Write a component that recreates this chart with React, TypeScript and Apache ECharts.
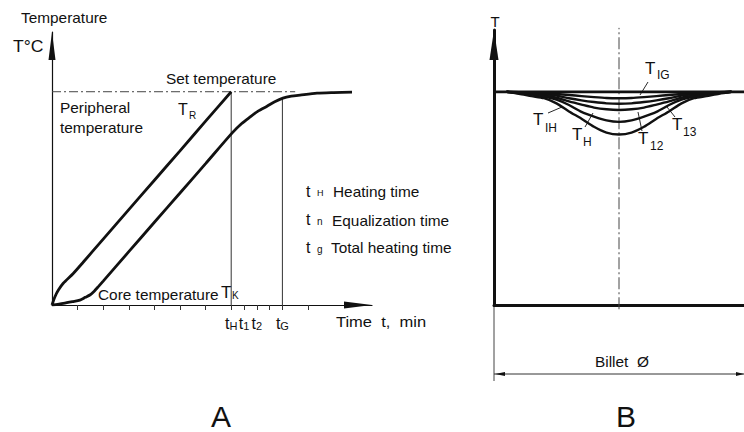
import React, { useEffect, useRef } from "react";
import * as echarts from "echarts";

const FONT = '"Liberation Sans", Arial, Helvetica, sans-serif';
const INK = "#111";

// ---- Panel A: heating of a billet over time (temperature in % of set value) ----
const surfaceTime = [0, 1.2, 2.5, 4.4, 8.3, 12, 20, 30, 40, 50, 60, 70];
const surfaceTemp = [0, 4, 7, 10.2, 14.8, 19.8, 30.9, 44.7, 58.5, 72.3, 86.2, 100];
const coreTime = [0, 4.4, 8, 10.9, 13, 14.8, 16.5, 18.1, 20, 30, 40, 50, 60, 70.3, 74, 77.3, 80.5, 84, 87, 90.2, 93.5, 96.9, 103.5, 110, 117.2];
const coreTemp = [0, 0.8, 1.6, 2.3, 3.6, 4.7, 6.5, 8.6, 11.2, 25, 38.8, 52.5, 66.3, 80.6, 85, 88.1, 90.9, 93.2, 95.3, 97, 97.9, 98.4, 99.3, 99.6, 99.8];
const setTemperature = 100;
const setLineEnd = 95;
const heatingTime = 70;
const totalTime = 90;
const totalTimeTemp = 97;
const timeTicks = [10, 20, 30, 40, 50, 60, 70, 75, 80, 85, 90, 100];
const timeLabelValues = [70, 75, 80, 90];
const timeLabelSubs = ["H", "1", "2", "G"];

// ---- Panel B: temperature across the billet diameter (-1 .. 1) ----
const positions = [-0.9, -0.8, -0.7, -0.6, -0.5, -0.4, -0.3, -0.2, -0.1, 0, 0.1, 0.2, 0.3, 0.4, 0.5, 0.6, 0.7, 0.8, 0.9];
const profileIH = [100, 99.1, 98, 97, 94.6, 90.8, 87.4, 83.6, 80.9, 80, 80.9, 83.6, 87.4, 90.8, 94.6, 97, 98, 99.1, 100];
const profileH = [100, 99.4, 98.7, 97.8, 96.3, 93.8, 90.6, 88.4, 86.6, 85.9, 86.6, 88.4, 90.6, 93.8, 96.3, 97.8, 98.7, 99.4, 100];
const profile12 = [100, 99.6, 99.1, 98.3, 97.2, 95.5, 94, 92.6, 91.8, 91.5, 91.8, 92.6, 94, 95.5, 97.2, 98.3, 99.1, 99.6, 100];
const profile13 = [100, 99.7, 99.4, 99, 98.2, 97, 96, 95.2, 94.6, 94.4, 94.6, 95.2, 96, 97, 98.2, 99, 99.4, 99.7, 100];
const profileIG = [100, 99.85, 99.7, 99.4, 99, 98.5, 98, 97.5, 97.1, 97, 97.1, 97.5, 98, 98.5, 99, 99.4, 99.7, 99.85, 100];
const profiles = [profileIH, profileH, profile12, profile13, profileIG];

const zip = (xs: number[], ys: number[]) => xs.map((x, i) => [x, ys[i]]);

const text = (x: number, y: number, t: string, size: number, extra: any = {}) => ({
  type: "text",
  x,
  y,
  scaleX: extra.scaleX ?? 1.1,
  style: {
    text: t,
    fontSize: size,
    fontFamily: FONT,
    fill: INK,
    verticalAlign: "middle",
    align: extra.align ?? "left",
  },
});

// A symbol with a lowered subscript, e.g. T with "IG"
const subLabel = (x: number, y: number, main: string, sub: string, size: number, subSize: number, dx: number, dy: number) => [
  text(x, y, main, size, { scaleX: 1 }),
  text(x + dx, y + dy, sub, subSize, { scaleX: 1 }),
];

const leader = (x1: number, y1: number, x2: number, y2: number) => ({
  type: "line",
  shape: { x1, y1, x2, y2 },
  style: { stroke: INK, lineWidth: 0.9 },
});

export default function App() {
  const ref = useRef<HTMLDivElement>(null);

  useEffect(() => {
    if (!ref.current) return;
    const chart = echarts.init(ref.current, undefined, { renderer: "svg" });

    const thinLine = (data: number[][], extra: any = {}) => ({
      type: "line",
      xAxisIndex: extra.axis ?? 0,
      yAxisIndex: extra.axis ?? 0,
      data,
      showSymbol: false,
      silent: true,
      clip: extra.clip ?? true,
      lineStyle: { color: extra.color ?? "#333", width: extra.width ?? 1, type: extra.type ?? "solid" },
      z: extra.z ?? 2,
    });

    const curve = (data: number[][], axis: number, width: number) => ({
      type: "line",
      xAxisIndex: axis,
      yAxisIndex: axis,
      data,
      smooth: 0.25,
      showSymbol: false,
      silent: true,
      lineStyle: { color: INK, width },
      z: 3,
    });

    const option: any = {
      animation: false,
      backgroundColor: "#fff",
      grid: [
        { left: 52, top: 32, width: 320, height: 273 },
        { left: 494, top: 30, width: 256, height: 275 },
      ],
      xAxis: [
        {
          type: "value",
          gridIndex: 0,
          min: 0,
          max: 125,
          axisLine: {
            show: true,
            onZero: false,
            symbol: ["none", "triangle"],
            symbolSize: [7, 28],
            symbolOffset: [0, -14],
            lineStyle: { color: INK, width: 1.2 },
          },
          axisTick: { show: true, customValues: timeTicks, length: 5, lineStyle: { color: "#333", width: 1 } },
          axisLabel: {
            show: true,
            customValues: timeLabelValues,
            margin: 6,
            formatter: (v: number) => {
              const i = timeLabelValues.indexOf(v);
              return i < 0 ? "" : `{m|t}{s|${timeLabelSubs[i]}}`;
            },
            rich: {
              m: { fontSize: 16, fontFamily: FONT, color: INK, verticalAlign: "bottom", lineHeight: 20 },
              s: { fontSize: 11, fontFamily: FONT, color: INK, verticalAlign: "bottom", lineHeight: 18 },
            },
          },
          splitLine: { show: false },
        },
        {
          type: "value",
          gridIndex: 1,
          min: -1,
          max: 1,
          axisLine: { show: true, onZero: false, lineStyle: { color: INK, width: 3 } },
          axisTick: { show: false },
          axisLabel: { show: false },
          splitLine: { show: false },
        },
      ],
      yAxis: [
        {
          type: "value",
          gridIndex: 0,
          min: 0,
          max: 128,
          axisLine: {
            show: true,
            onZero: false,
            symbol: ["none", "triangle"],
            symbolSize: [7, 28],
            symbolOffset: [0, -14],
            lineStyle: { color: INK, width: 1.2 },
          },
          axisTick: { show: false },
          axisLabel: { show: false },
          splitLine: { show: false },
        },
        {
          type: "value",
          gridIndex: 1,
          min: 0,
          max: 129,
          axisLine: {
            show: true,
            onZero: false,
            symbol: ["none", "triangle"],
            symbolSize: [9, 30],
            symbolOffset: [0, -15],
            lineStyle: { color: INK, width: 3 },
          },
          axisTick: { show: false },
          axisLabel: { show: false },
          splitLine: { show: false },
        },
      ],
      series: [
        // Panel A
        thinLine([[0, setTemperature], [setLineEnd, setTemperature]], { type: [9, 3, 2, 3], color: "#444" }),
        thinLine([[heatingTime, 0], [heatingTime, setTemperature]]),
        thinLine([[totalTime, 0], [totalTime, totalTimeTemp]]),
        curve(zip(surfaceTime, surfaceTemp), 0, 2.8),
        curve(zip(coreTime, coreTemp), 0, 2.8),
        // Panel B
        thinLine([[-1, setTemperature], [1, setTemperature]], { axis: 1, width: 2.8, color: INK, z: 4 }),
        ...profiles.map((p) => curve(zip(positions, p), 1, 2.4)),
        thinLine([[0, -2], [0, 130]], { axis: 1, clip: false, type: [12, 3, 2, 3], color: "#444" }),
      ],
      graphic: [
        // Panel A texts
        text(21, 18, "Temperature", 14),
        text(13, 47, "T°C", 16),
        text(166, 79, "Set temperature", 14),
        text(60, 108, "Peripheral", 14),
        text(60, 128, "temperature", 14),
        ...subLabel(178, 109, "T", "R", 16, 10, 11, 6),
        text(98, 295, "Core temperature", 14),
        ...subLabel(221, 292, "T", "K", 17, 10, 11, 3),
        ...subLabel(306, 191, "t", "H", 16, 9, 11, 2),
        text(333, 192, "Heating time", 14),
        ...subLabel(306, 219, "t", "n", 16, 10, 11, 2),
        text(332, 221, "Equalization time", 14),
        ...subLabel(306, 247, "t", "g", 16, 10, 11, 2),
        text(331, 248, "Total heating time", 14),
        text(336, 322, "Time  t,  min", 15),
        text(221, 416, "A", 30, { align: "center", scaleX: 1 }),
        // Panel B texts
        text(495, 21, "T", 15, { align: "center", scaleX: 1 }),
        ...subLabel(645, 68, "T", "IG", 17, 12, 12, 7),
        ...subLabel(533, 119, "T", "IH", 17, 12, 12, 9),
        ...subLabel(572, 134, "T", "H", 17, 12, 11, 8),
        ...subLabel(638, 138, "T", "12", 17, 12, 12, 8),
        ...subLabel(672, 124, "T", "13", 17, 12, 11, 8),
        leader(648, 82, 640, 95),
        leader(548, 113, 562, 107),
        leader(585, 127, 593, 113),
        leader(642, 131, 638, 112),
        leader(675, 117, 667, 107),
        text(595, 362, "Billet  Ø", 14),
        text(626, 416, "B", 30, { align: "center", scaleX: 1 }),
        // Diameter dimension
        { type: "line", shape: { x1: 494, y1: 305, x2: 494, y2: 381 }, style: { stroke: "#444", lineWidth: 1 } },
        { type: "line", shape: { x1: 494, y1: 374, x2: 744, y2: 374 }, style: { stroke: "#333", lineWidth: 1 } },
        { type: "polygon", shape: { points: [[495, 374], [505, 372], [505, 376]] }, style: { fill: INK } },
        { type: "polygon", shape: { points: [[744, 374], [736, 372], [736, 376]] }, style: { fill: INK } },
      ],
    };

    chart.setOption(option);
    return () => chart.dispose();
  }, []);

  return <div ref={ref} style={{ position: "absolute", left: 0, top: 0, width: 744, height: 432 }} />;
}
